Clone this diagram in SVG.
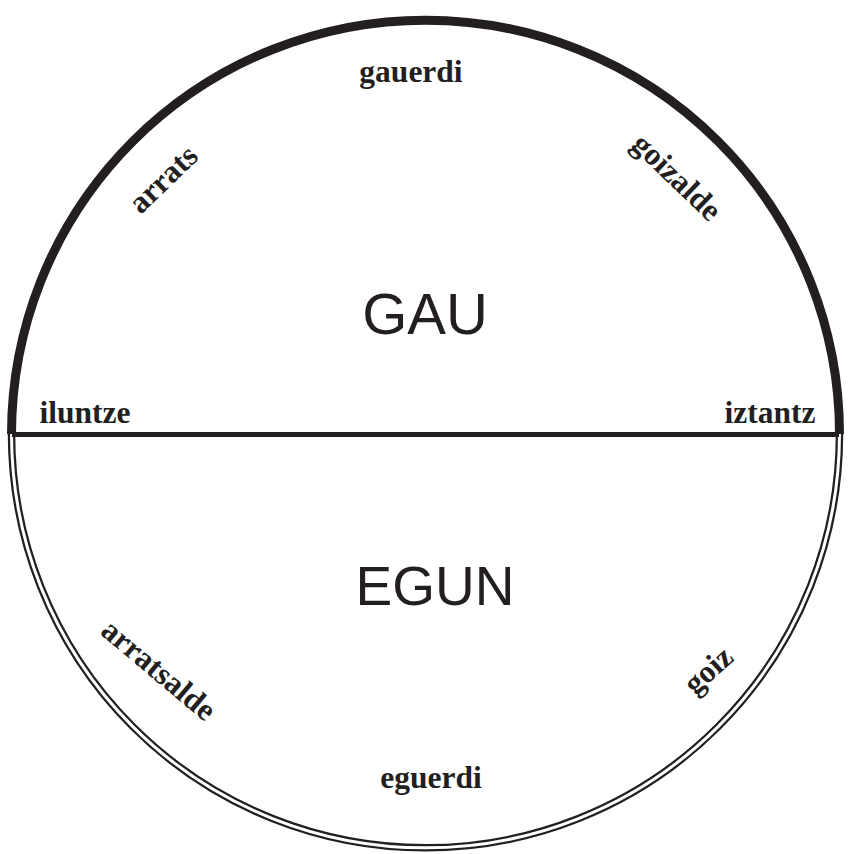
<svg xmlns="http://www.w3.org/2000/svg" width="848" height="854" viewBox="0 0 848 854">
<style>
.lbl{font-family:"Liberation Serif","Times New Roman",serif;font-weight:bold;font-size:31.5px;fill:#231f20;text-anchor:middle}
.big{font-family:"Liberation Sans",Arial,sans-serif;font-size:58px;fill:#231f20;text-anchor:middle}
</style>
<rect width="848" height="854" fill="#fff"/>
<g id="connectors">
<path d="M 11.5 434 A 414 414 0 0 1 839.5 434" fill="none" stroke="#231f20" stroke-width="9"/>
<path d="M 11.5 434 A 414 414 0 0 0 839.5 434" fill="none" stroke="#231f20" stroke-width="7.5"/>
<path d="M 11.5 434 A 414 414 0 0 0 839.5 434" fill="none" stroke="#fff" stroke-width="3"/>
<line x1="12" y1="434.5" x2="839" y2="434.5" stroke="#231f20" stroke-width="5"/>
</g>
<g id="gau"><text class="big" x="425" y="334">GAU</text></g>
<g id="egun"><text class="big" x="435" y="605" style="font-size:55px">EGUN</text></g>
<g id="gauerdi"><text class="lbl" x="411" y="82">gauerdi</text></g>
<g id="eguerdi"><text class="lbl" x="431" y="788">eguerdi</text></g>
<g id="iluntze"><text class="lbl" x="85" y="423">iluntze</text></g>
<g id="iztantz"><text class="lbl" x="770" y="423">iztantz</text></g>
<g id="arrats"><text class="lbl" transform="translate(164,180) rotate(-44)" y="9">arrats</text></g>
<g id="goizalde"><text class="lbl" transform="translate(676,178) rotate(44)" y="9">goizalde</text></g>
<g id="arratsalde"><text class="lbl" transform="translate(158,671) rotate(40)" y="9">arratsalde</text></g>
<g id="goiz"><text class="lbl" transform="translate(709,671) rotate(-42)" y="9">goiz</text></g>
</svg>
